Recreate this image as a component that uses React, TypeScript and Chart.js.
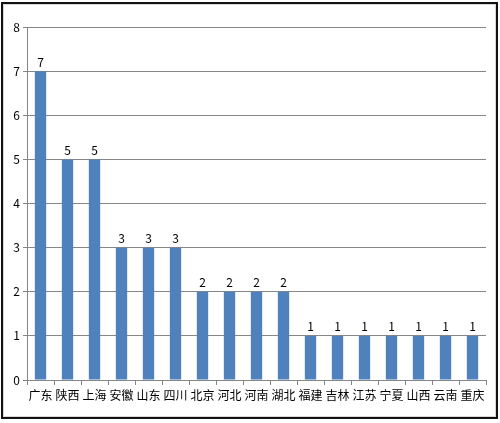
import React, { useEffect, useRef } from "react";
import { Chart, registerables } from "chart.js";

Chart.register(...registerables);

const categories = ["广东", "陕西", "上海", "安徽", "山东", "四川", "北京", "河北", "河南", "湖北", "福建", "吉林", "江苏", "宁夏", "山西", "云南", "重庆"];
const values = [7, 5, 5, 3, 3, 3, 2, 2, 2, 2, 1, 1, 1, 1, 1, 1, 1];
const yMin = 0;
const yMax = 8;
const yStep = 1;

const FONT = "'Noto Sans CJK SC', 'DejaVu Sans', sans-serif";

const valueLabels = {
  id: "valueLabels",
  afterDatasetsDraw(chart: any) {
    const ctx = chart.ctx;
    const meta = chart.getDatasetMeta(0);
    ctx.save();
    ctx.fillStyle = "#000";
    ctx.font = `12px ${FONT}`;
    ctx.textAlign = "center";
    ctx.textBaseline = "bottom";
    meta.data.forEach((bar: any, i: number) => {
      ctx.fillText(String(values[i]), bar.x, bar.y - 3);
    });
    ctx.restore();
  },
};

export default function App() {
  const ref = useRef<HTMLCanvasElement>(null);
  useEffect(() => {
    document.body.style.margin = "0";
    const chart = new Chart(ref.current!, {
      type: "bar",
      data: {
        labels: categories,
        datasets: [
          {
            data: values,
            backgroundColor: "#4F81BD",
            borderWidth: 0,
            barPercentage: 0.42,
            categoryPercentage: 1,
          },
        ],
      },
      options: {
        animation: false,
        responsive: false,
        layout: { padding: { left: 0, top: 27, right: 14, bottom: 0 } },
        plugins: { legend: { display: false }, tooltip: { enabled: false } },
        scales: {
          x: {
            afterFit(scale: any) {
              scale.height = 43;
            },
            grid: {
              drawOnChartArea: false,
              drawTicks: true,
              tickLength: 5,
              color: "#868686",
              offset: true,
            },
            border: { display: true, color: "#868686" },
            ticks: {
              color: "#000",
              font: { family: FONT, size: 12 },
              padding: 3,
              maxRotation: 0,
              autoSkip: false,
            },
          },
          y: {
            min: yMin,
            max: yMax,
            afterFit(scale: any) {
              scale.width = 27;
            },
            grid: { color: "#868686", tickLength: 4, drawTicks: true },
            border: { display: true, color: "#868686" },
            ticks: {
              stepSize: yStep,
              color: "#000",
              font: { family: FONT, size: 12 },
              padding: 3,
            },
          },
        },
      },
      plugins: [valueLabels],
    });
    return () => chart.destroy();
  }, []);

  return (
    <div style={{ position: "relative", width: 500, height: 423, background: "#fff" }}>
      <canvas ref={ref} width={500} height={423} style={{ position: "absolute", left: 0, top: 0 }} />
      <div
        style={{
          position: "absolute",
          left: 1,
          top: 2,
          width: 493,
          height: 413,
          border: "2px solid #111",
          boxSizing: "content-box",
          pointerEvents: "none",
        }}
      >
        <div style={{ position: "absolute", left: 0, top: 0, right: 0, bottom: 0, border: "1px solid #d8d8d8" }} />
      </div>
    </div>
  );
}
